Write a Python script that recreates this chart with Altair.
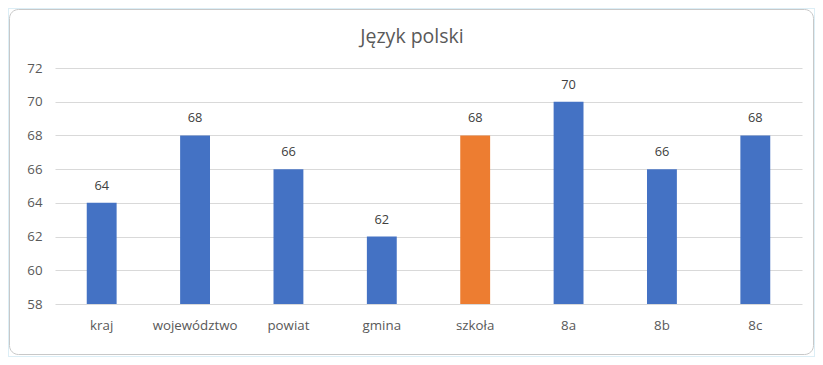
import altair as alt
import pandas as pd

categories = ["kraj", "województwo", "powiat", "gmina", "szkoła", "8a", "8b", "8c"]
values = [64, 68, 66, 62, 68, 70, 66, 68]
colors = ["#4472C4", "#4472C4", "#4472C4", "#4472C4", "#ED7D31", "#4472C4", "#4472C4", "#4472C4"]
y_ticks = [58, 60, 62, 64, 66, 68, 70, 72]
title_text = "Język polski"

df = pd.DataFrame({"kategoria": categories, "wynik": values, "kolor": colors})

FONT = "Open Sans"
W, H = 747, 236

x_enc = alt.X("kategoria:N", sort=categories, title=None,
              scale=alt.Scale(paddingInner=0.68, paddingOuter=0.34),
              axis=alt.Axis(labelAngle=0, domain=False, ticks=False, grid=False, labelPadding=14,
                            labelFontSize=13.3, labelColor="#595959", labelFont=FONT))
y_enc = alt.Y("wynik:Q", title=None,
              scale=alt.Scale(domain=[58, 72], nice=False, zero=False),
              axis=alt.Axis(values=y_ticks, domain=False, ticks=False, labelPadding=13,
                            labelOverlap=False,
                            labelFontSize=13.3, labelColor="#595959", labelFont=FONT,
                            gridColor="#D9D9D9", gridWidth=1))

base = alt.Chart(df).encode(x=x_enc, y=y_enc)

bars = base.mark_bar(clip=True).encode(
    y2=alt.datum(58),
    color=alt.Color("kolor:N", scale=None, legend=None),
)

labels = base.mark_text(dy=-17, fontSize=12.8, color="#404040", font=FONT).encode(
    text="wynik:Q"
)

one = pd.DataFrame({"t": [title_text]})

# chart title drawn as text
title = alt.Chart(one).mark_text(fontSize=19.5, font=FONT, color="#595959", clip=False).encode(
    text="t:N", x=alt.value(357), y=alt.value(-31)
)

# decorative chart frame (Excel-style chart border)
frame_outer = alt.Chart(one).mark_rect(
    fill="transparent", stroke="#DCEEF6", strokeWidth=2, clip=False
).encode(x=alt.value(-47), x2=alt.value(W + 13), y=alt.value(-60), y2=alt.value(H + 53))
frame = alt.Chart(one).mark_rect(
    fill="transparent", stroke="#C8C8C8", strokeWidth=1, cornerRadius=9, clip=False
).encode(x=alt.value(-45.5), x2=alt.value(W + 11.5), y=alt.value(-58.5), y2=alt.value(H + 50.5))

chart = alt.layer(bars, labels, title, frame_outer, frame).properties(
    width=W, height=H,
    background="white",
    autosize=alt.AutoSizeParams(type="none"),
    padding={"left": 47, "top": 60, "right": 13, "bottom": 53},
).configure_view(strokeWidth=0, stroke="transparent")

chart.save("out.html", embed_options={"renderer": "svg", "actions": False})
